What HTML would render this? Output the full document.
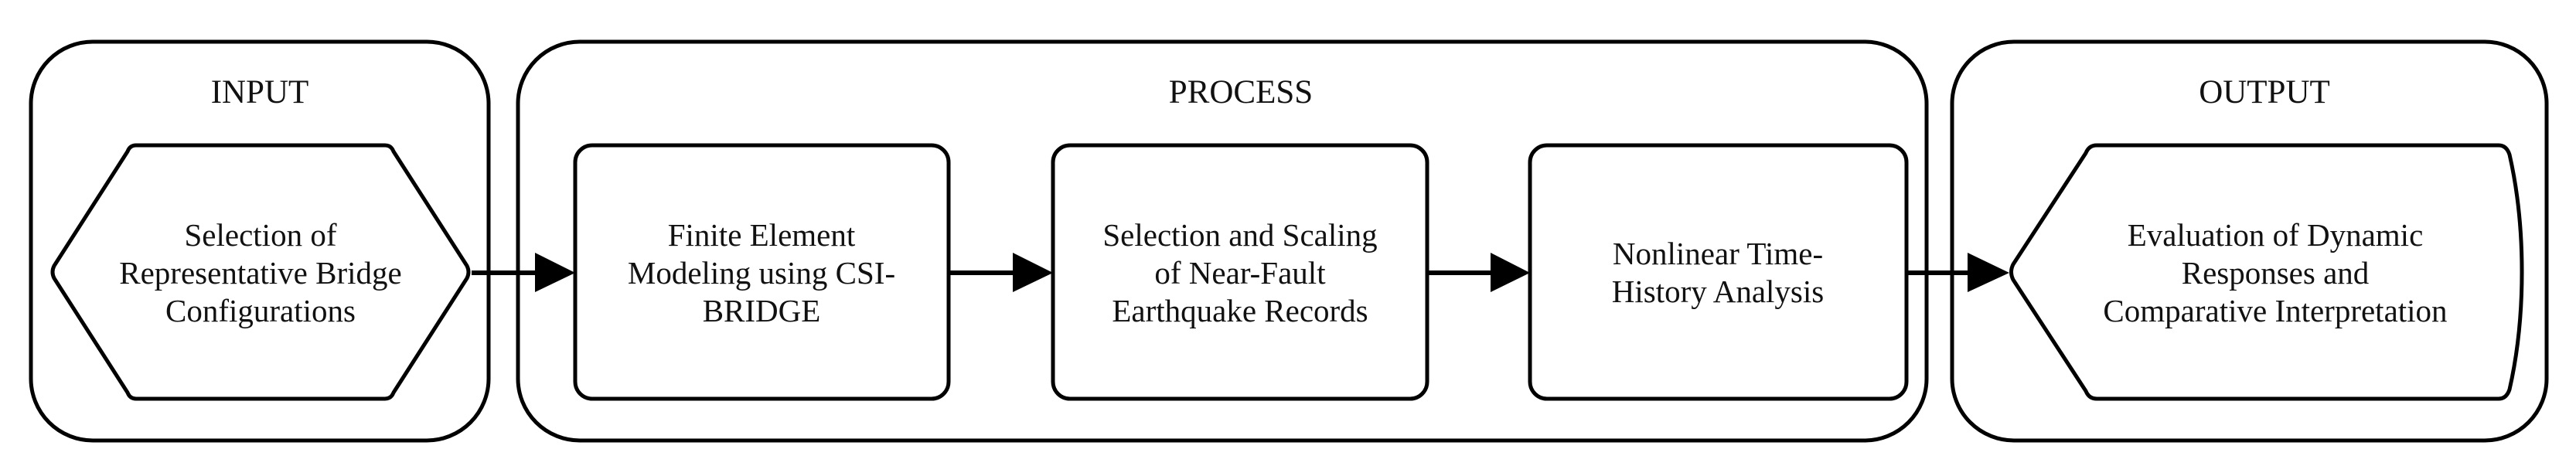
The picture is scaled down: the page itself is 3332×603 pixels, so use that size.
<!DOCTYPE html>
<html><head><meta charset="utf-8"><style>
html,body{margin:0;padding:0;background:#fff}
svg{display:block}
text{font-family:"Liberation Serif",serif;fill:#111}
</style></head><body>
<svg width="3332" height="603" viewBox="0 0 3332 603" xmlns="http://www.w3.org/2000/svg">
<g fill="none" stroke="#000" stroke-width="5">
<rect x="40" y="54" width="592" height="516" rx="80" ry="80"/>
<rect x="670" y="54" width="1822" height="516" rx="80" ry="80"/>
<rect x="2525" y="54" width="769" height="516" rx="80" ry="80"/>
<path d="M176,188 L498,188 Q506,188 509,196 L604,344 Q608,352 604,360 L509,508 Q506,516 498,516 L176,516 Q168,516 165,508 L70,360 Q66,352 70,344 L165,196 Q168,188 176,188 Z"/>
<rect x="744" y="188" width="483" height="328" rx="22" ry="22"/>
<rect x="1362" y="188" width="484" height="328" rx="22" ry="22"/>
<rect x="1979" y="188" width="487" height="328" rx="22" ry="22"/>
<path d="M2712,188 L3232,188 Q3242,188 3246,200 Q3262,270 3262,352 Q3262,434 3246,504 Q3242,516 3232,516 L2712,516 Q2702,516 2698,506 L2604,362 Q2599,352 2604,342 L2698,198 Q2702,188 2712,188 Z"/>
</g>
<g stroke="#000" stroke-width="6">
<line x1="610" y1="353" x2="696" y2="353"/>
<line x1="1229" y1="353" x2="1314" y2="353"/>
<line x1="1848" y1="353" x2="1932" y2="353"/>
<line x1="2467" y1="353" x2="2550" y2="353"/>
</g>
<g fill="#000">
<polygon points="692,327 744,353 692,378"/>
<polygon points="1310,327 1362,353 1310,378"/>
<polygon points="1928,327 1979,353 1928,378"/>
<polygon points="2545,327 2599,353 2545,378"/>
</g>
<g font-size="43" text-anchor="middle">
<text x="336" y="133">INPUT</text>
<text x="1605" y="133">PROCESS</text>
<text x="2929" y="133">OUTPUT</text>
</g>
<g font-size="41" text-anchor="middle">
<text x="337" y="318">Selection of</text>
<text x="337" y="367">Representative Bridge</text>
<text x="337" y="416">Configurations</text>
<text x="985" y="318">Finite Element</text>
<text x="985" y="367">Modeling using CSI-</text>
<text x="985" y="416">BRIDGE</text>
<text x="1604" y="318">Selection and Scaling</text>
<text x="1604" y="367">of Near-Fault</text>
<text x="1604" y="416">Earthquake Records</text>
<text x="2222" y="342">Nonlinear Time-</text>
<text x="2222" y="391">History Analysis</text>
<text x="2943" y="318">Evaluation of Dynamic</text>
<text x="2943" y="367">Responses and</text>
<text x="2943" y="416">Comparative Interpretation</text>
</g>
</svg>
</body></html>
